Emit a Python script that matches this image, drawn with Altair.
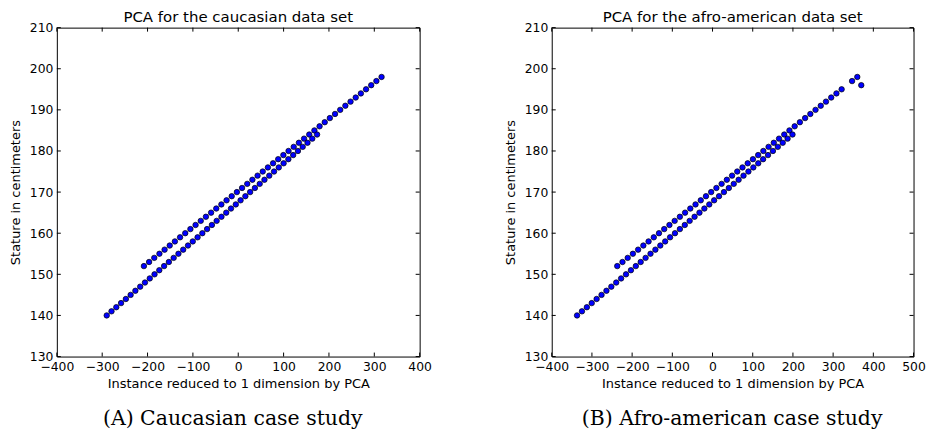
import altair as alt
import pandas as pd

# ---- Caucasian data set (panel A) ----
cau_upper_stature = [152, 153, 154, 155, 156, 157, 158, 159, 160, 161, 162, 163, 164, 165, 166, 167,
                     168, 169, 170, 171, 172, 173, 174, 175, 176, 177, 178, 179, 180, 181, 182, 183,
                     184, 185, 186, 187, 188, 189, 190, 191, 192, 193, 194, 195, 196, 197, 198]
cau_upper_pca = [-208, -196.6, -185.2, -173.8, -162.4, -151.1, -139.7, -128.3, -116.9, -105.5, -94.1,
                 -82.7, -71.3, -59.9, -48.5, -37.2, -25.8, -14.4, -3.0, 8.4, 19.8, 31.2, 42.6, 54.0,
                 65.4, 76.8, 88.1, 99.5, 110.9, 122.3, 133.7, 145.1, 156.5, 167.9, 179.3, 190.7,
                 202.0, 213.4, 224.8, 236.2, 247.6, 259.0, 270.4, 281.8, 293.2, 304.6, 316.0]
cau_lower_stature = [140, 141, 142, 143, 144, 145, 146, 147, 148, 149, 150, 151, 152, 153, 154, 155,
                     156, 157, 158, 159, 160, 161, 162, 163, 164, 165, 166, 167, 168, 169, 170, 171,
                     172, 173, 174, 175, 176, 177, 178, 179, 180, 181, 182, 183, 184]
cau_lower_pca = [-290, -279.5, -268.9, -258.4, -247.8, -237.3, -226.8, -216.2, -205.7, -195.1, -184.6,
                 -174.1, -163.5, -153.0, -142.4, -131.9, -121.4, -110.8, -100.3, -89.7, -79.2, -68.7,
                 -58.1, -47.6, -37.0, -26.5, -16.0, -5.4, 5.1, 15.7, 26.2, 36.7, 47.3, 57.8, 68.4,
                 78.9, 89.4, 100.0, 110.5, 121.1, 131.6, 142.1, 152.7, 163.2, 173.8]

# ---- Afro-american data set (panel B) ----
afr_upper_stature = [152, 153, 154, 155, 156, 157, 158, 159, 160, 161, 162, 163, 164, 165, 166, 167,
                     168, 169, 170, 171, 172, 173, 174, 175, 176, 177, 178, 179, 180, 181, 182, 183,
                     184, 185, 186, 187, 188, 189, 190, 191, 192, 193, 194, 195, 197, 198, 196]
afr_upper_pca = [-237, -224.0, -211.0, -198.1, -185.1, -172.1, -159.1, -146.1, -133.2, -120.2, -107.2,
                 -94.2, -81.2, -68.3, -55.3, -42.3, -29.3, -16.3, -3.4, 9.6, 22.6, 35.6, 48.6, 61.5,
                 74.5, 87.5, 100.5, 113.5, 126.4, 139.4, 152.4, 165.4, 178.4, 191.3, 204.3, 217.3,
                 230.3, 243.3, 256.2, 269.2, 282.2, 295.2, 308.2, 321.1, 347.1, 360.1, 370.0]
afr_lower_stature = [140, 141, 142, 143, 144, 145, 146, 147, 148, 149, 150, 151, 152, 153, 154, 155,
                     156, 157, 158, 159, 160, 161, 162, 163, 164, 165, 166, 167, 168, 169, 170, 171,
                     172, 173, 174, 175, 176, 177, 178, 179, 180, 181, 182, 183, 184]
afr_lower_pca = [-337, -324.8, -312.6, -300.5, -288.3, -276.1, -263.9, -251.7, -239.6, -227.4, -215.2,
                 -203.0, -190.8, -178.7, -166.5, -154.3, -142.1, -129.9, -117.8, -105.6, -93.4, -81.2,
                 -69.0, -56.9, -44.7, -32.5, -20.3, -8.1, 4.0, 16.2, 28.4, 40.6, 52.8, 64.9, 77.1,
                 89.3, 101.5, 113.7, 125.8, 138.0, 150.2, 162.4, 174.6, 186.7, 198.9]

y_ticks = [130, 140, 150, 160, 170, 180, 190, 200, 210]
x_ticks_a = [-400, -300, -200, -100, 0, 100, 200, 300, 400]
x_ticks_b = [-400, -300, -200, -100, 0, 100, 200, 300, 400, 500]

titles = ["PCA for the caucasian data set", "PCA for the afro-american data set"]
captions = ["(A) Caucasian case study", "(B) Afro-american case study"]
x_title = "Instance reduced to 1 dimension by PCA"
y_title = "Stature in centimeters"

H = 330
TICK = 4


def panel(pca_u, st_u, pca_l, st_l, xticks, title, caption, width, cap_x):
    df = pd.DataFrame({
        "pca": pca_u + pca_l,
        "stature": st_u + st_l,
    })
    xs = alt.Scale(domain=[xticks[0], xticks[-1]], nice=False, zero=False)
    ys = alt.Scale(domain=[y_ticks[0], y_ticks[-1]], nice=False, zero=False)
    x_axis = alt.Axis(values=xticks, format="d", title=x_title,
                      labelOverlap=False, labelBound=False, labelFlush=False)
    y_axis = alt.Axis(values=y_ticks, format="d", title=y_title,
                      labelOverlap=False, labelBound=False, labelFlush=False)

    pts = alt.Chart(df).mark_circle(
        size=30, fill="#0000ff", stroke="black", strokeWidth=0.7, opacity=1
    ).encode(
        x=alt.X("pca:Q", scale=xs, axis=x_axis),
        y=alt.Y("stature:Q", scale=ys, axis=y_axis),
    )

    xt = pd.DataFrame({"pca": xticks})
    yt = pd.DataFrame({"stature": y_ticks})
    rule = dict(color="black", strokeWidth=1)
    t_top = alt.Chart(xt).mark_rule(**rule).encode(
        x=alt.X("pca:Q", scale=xs, axis=x_axis), y=alt.value(0), y2=alt.value(TICK))
    t_bot = alt.Chart(xt).mark_rule(**rule).encode(
        x=alt.X("pca:Q", scale=xs, axis=x_axis), y=alt.value(H), y2=alt.value(H - TICK))
    t_left = alt.Chart(yt).mark_rule(**rule).encode(
        y=alt.Y("stature:Q", scale=ys, axis=y_axis), x=alt.value(0), x2=alt.value(TICK))
    t_right = alt.Chart(yt).mark_rule(**rule).encode(
        y=alt.Y("stature:Q", scale=ys, axis=y_axis), x=alt.value(width), x2=alt.value(width - TICK))

    ttl = alt.Chart(pd.DataFrame({"t": [title]})).mark_text(
        font="DejaVu Sans", fontSize=15, align="center", baseline="alphabetic", color="black"
    ).encode(x=alt.value(width / 2), y=alt.value(-6), text="t:N")

    cap = alt.Chart(pd.DataFrame({"t": [caption]})).mark_text(
        font="DejaVu Serif", fontSize=20.5, align="center", baseline="alphabetic", color="black"
    ).encode(x=alt.value(cap_x), y=alt.value(H + 69), text="t:N")

    return alt.layer(pts, t_top, t_bot, t_left, t_right, ttl, cap).properties(
        width=width, height=H,
    )


left = panel(cau_upper_pca, cau_upper_stature, cau_lower_pca, cau_lower_stature,
             x_ticks_a, titles[0], captions[0], 364, 176.5)
right = panel(afr_upper_pca, afr_upper_stature, afr_lower_pca, afr_lower_stature,
              x_ticks_b, titles[1], captions[1], 363, 181)

chart = alt.hconcat(left, right, spacing=70.5).properties(
    padding={"left": 0, "top": 0, "right": 0, "bottom": 0}
).configure_view(
    stroke="black", strokeWidth=1
).configure_axis(
    labelFont="DejaVu Sans", labelFontSize=12.4, labelColor="black",
    titleFont="DejaVu Sans", titleFontSize=13, titleFontWeight="normal", titleColor="black",
    ticks=False, tickSize=0, domain=False, grid=False, labelFlush=False, labelOverlap=False,
).configure_axisX(
    labelPadding=4, titlePadding=5
).configure_axisY(
    labelPadding=4, titlePadding=7
)

chart.save("out.html", embed_options={"renderer": "svg", "actions": False})
